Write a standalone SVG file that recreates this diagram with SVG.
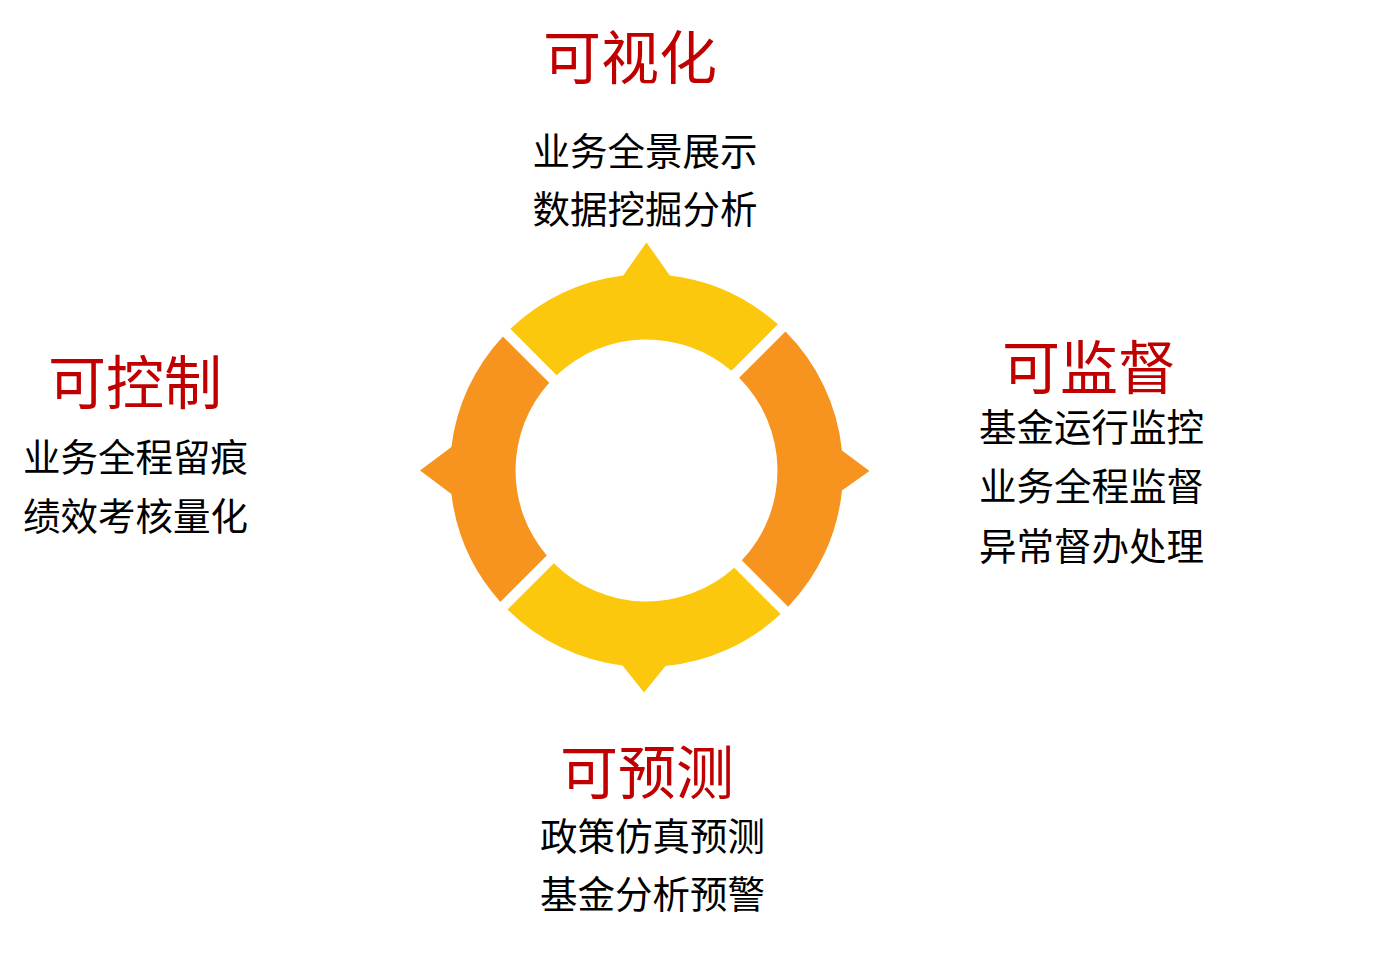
<svg xmlns="http://www.w3.org/2000/svg" width="1378" height="955" viewBox="0 0 1378 955">
<style>
.title{font-family:"Noto Sans CJK SC","Noto Sans CJK JP",sans-serif;font-size:58px;fill:#C00000;text-anchor:middle}
.body{font-family:"Noto Sans CJK SC","Noto Sans CJK JP",sans-serif;font-size:37.5px;fill:#000000;text-anchor:middle}
.yel{fill:#FCC80D}
.org{fill:#F6941F}
</style>
<rect width="1378" height="955" fill="#FFFFFF"/>
<g id="ring">
<path id="seg-top" class="yel" d="M510.33 328.83 A196.5 196.5 0 0 1 623.2 275.39 L646.5 242.5 L669.8 275.39 A196.5 196.5 0 0 1 777.88 324.37 L731.46 370.79 A131 131 0 0 0 556.66 375.16 Z"/>
<path id="seg-right" class="org" d="M785.45 331.55 A196.5 196.5 0 0 1 841.98 450.5 L869.5 471 L841.98 490.5 A196.5 196.5 0 0 1 788.17 606.67 L741.84 560.34 A131 131 0 0 0 739.13 377.87 Z"/>
<path id="seg-bottom" class="yel" d="M780.62 614.12 A196.5 196.5 0 0 1 665.5 666.08 L644 692.5 L622.5 665.53 A196.5 196.5 0 0 1 507.55 609.45 L553.87 563.13 A131 131 0 0 0 734.26 567.76 Z"/>
<path id="seg-left" class="org" d="M500.37 601.88 A196.5 196.5 0 0 1 451.41 494 L420 470.5 L451.41 447 A196.5 196.5 0 0 1 502.89 336.39 L549.24 382.74 A131 131 0 0 0 546.79 555.46 Z"/>
</g>
<g id="node-top">
<text class="title" x="630" y="78.5">可视化</text>
<text class="body" x="645" y="165">业务全景展示</text>
<text class="body" x="645" y="223">数据挖掘分析</text>
</g>
<g id="node-left">
<text class="title" x="135" y="403.5">可控制</text>
<text class="body" x="135.5" y="471">业务全程留痕</text>
<text class="body" x="135.5" y="530">绩效考核量化</text>
</g>
<g id="node-right">
<text class="title" x="1089" y="388.5">可监督</text>
<text class="body" x="1091.5" y="441">基金运行监控</text>
<text class="body" x="1091.5" y="500">业务全程监督</text>
<text class="body" x="1091.5" y="560">异常督办处理</text>
</g>
<g id="node-bottom">
<text class="title" x="647" y="793.5">可预测</text>
<text class="body" x="652.5" y="850">政策仿真预测</text>
<text class="body" x="652.5" y="908">基金分析预警</text>
</g>
</svg>
